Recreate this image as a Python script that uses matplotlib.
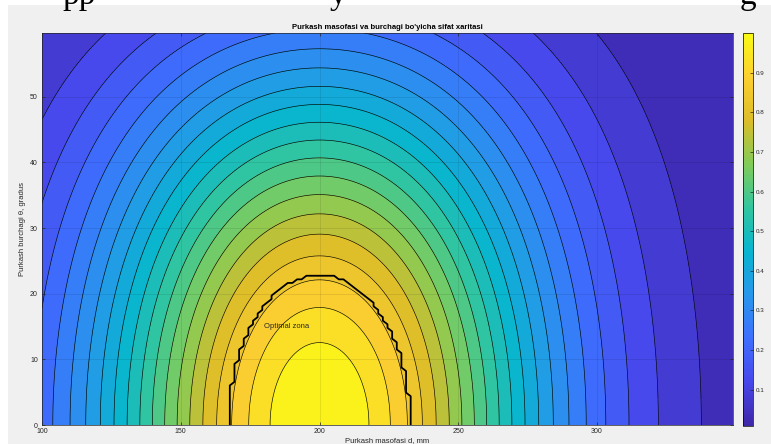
import numpy as np
import matplotlib
matplotlib.use("Agg")
import matplotlib.pyplot as plt
from matplotlib.colors import LinearSegmentedColormap, Normalize
from matplotlib.patches import Rectangle

plt.rcParams["font.family"] = ["Liberation Sans", "DejaVu Sans"]

# sifat modeli parametrlari (rasmdan o'qilgan)
d_lim = [100, 349]          # purkash masofasi, mm
theta_lim = [0, 59.7]       # purkash burchagi, gradus
d_opt = 200                 # eng yaxshi masofa
d_width = 81                # masofa bo'yicha kenglik
q_opt = 0.85                # optimal zona chegarasi
n_levels = 20

xticks = [100, 150, 200, 250, 300]
yticks = [0, 10, 20, 30, 40, 50]
cticks = [0.1, 0.2, 0.3, 0.4, 0.5, 0.6, 0.7, 0.8, 0.9, 1]
label_pos = (180, 15)

# parula ga yaqin rang xaritasi
parula_pts = [
    (0.2422, 0.1504, 0.6603),
    (0.2803, 0.2782, 0.9221),
    (0.2440, 0.4358, 0.9988),
    (0.1540, 0.5902, 0.9218),
    (0.0297, 0.7082, 0.8163),
    (0.1938, 0.7758, 0.6251),
    (0.5044, 0.7993, 0.3480),
    (0.8634, 0.7406, 0.1596),
    (0.9892, 0.8136, 0.1885),
    (0.9769, 0.9839, 0.0805),
]
parula = LinearSegmentedColormap.from_list("parula", parula_pts)

def quality(d, th):
    return np.exp(-((d - d_opt) / d_width) ** 2) * np.cos(np.radians(th)) ** 2

# mayin to'r - konturlar uchun
D, T = np.meshgrid(np.linspace(*d_lim, 400), np.linspace(*theta_lim, 300))
Q = quality(D, T)
# dag'al to'r - optimal zona uchun
Dc, Tc = np.meshgrid(np.linspace(*d_lim, 150), np.linspace(*theta_lim, 110))
mask = (quality(Dc, Tc) >= q_opt).astype(float)

qmin, qmax = Q.min(), Q.max()
levels = np.linspace(qmin, qmax, n_levels + 2)
norm = Normalize(qmin, qmax)

W, H = 771, 444
fig = plt.figure(figsize=(W / 100, H / 100), dpi=100, facecolor="white")
fig.patches.append(Rectangle((8 / W, 0), 1, (H - 5) / H, transform=fig.transFigure,
                             facecolor="#f0f0f0", edgecolor="none", zorder=-10))

# hujjat matnining qirqilgan qismi
for s, x in [("pp", 62), ("y", 330), ("g", 740)]:
    fig.text(x / W, (H - 4) / H, s, fontsize=24, family="Liberation Serif",
             va="baseline", ha="left", color="black", zorder=5)

ax = fig.add_axes([42 / W, 19 / H, 691 / W, 392 / H])
ax.set_zorder(2)
ax.contourf(D, T, Q, levels=levels, cmap=parula, norm=norm)
ax.contour(D, T, Q, levels=levels[1:-1], colors="k", linewidths=0.45)
ax.contour(Dc, Tc, mask, levels=[0.5], colors="k", linewidths=1.3)
ax.text(label_pos[0], label_pos[1], "Optimal zona", fontsize=5.5, ha="left", va="center",
        color="#262626")

ax.set_xlim(d_lim)
ax.set_ylim(theta_lim)
ax.set_xticks(xticks)
ax.set_yticks(yticks)
ax.grid(True, color="k", alpha=0.12, linewidth=0.5)
ax.set_axisbelow(False)
ax.tick_params(direction="in", length=2.5, width=0.5, labelsize=5, colors="#262626",
               top=True, right=True, labeltop=False, labelright=False, pad=2)
ax.tick_params(axis="y", pad=3)
for sp in ax.spines.values():
    sp.set_linewidth(0.5)
    sp.set_color("#262626")
ax.set_title("Purkash masofasi va burchagi bo'yicha sifat xaritasi", fontsize=5.5,
             fontweight="bold", pad=3)
ax.set_xlabel("Purkash masofasi d, mm", fontsize=5.5, color="#262626", labelpad=1.5)
ax.set_ylabel("Purkash burchagi θ, gradus", fontsize=5.5, color="#262626", labelpad=3)

cax = fig.add_axes([743 / W, 18 / H, 10 / W, 393 / H])
cax.set_zorder(2)
sm = plt.cm.ScalarMappable(norm=norm, cmap=parula)
cb = fig.colorbar(sm, cax=cax, ticks=cticks)
cb.ax.set_yticklabels([f"{t:g}" for t in cticks])
cb.ax.tick_params(direction="in", length=2, width=0.5, labelsize=4.5, colors="#262626", pad=2)
cb.outline.set_linewidth(0.5)

fig.savefig("out.png", dpi=100, facecolor=fig.get_facecolor())
